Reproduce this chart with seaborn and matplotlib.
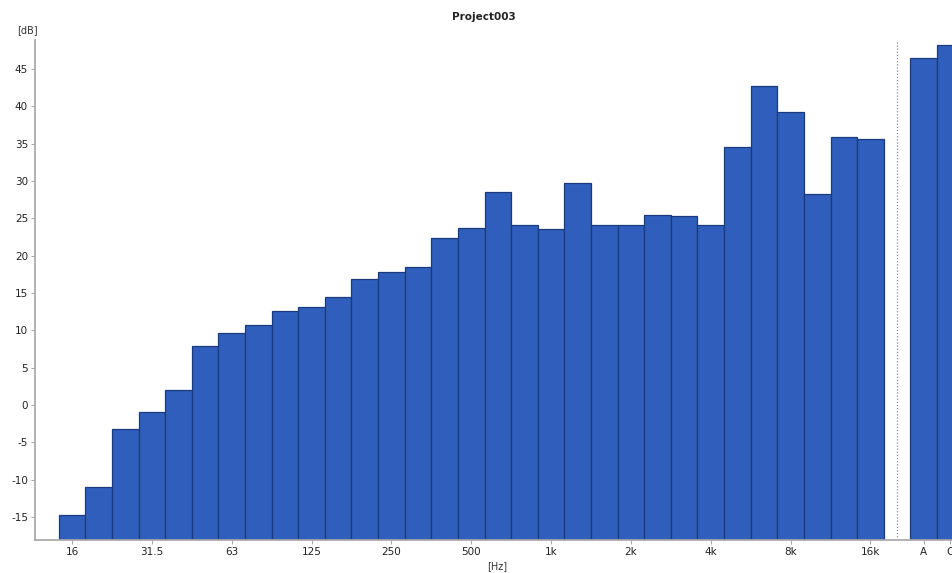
import matplotlib
matplotlib.use("Agg")
import matplotlib.pyplot as plt
import pandas as pd
import seaborn as sns

# 1/3-octave bands, 16 Hz .. 16 kHz, then the A and C weighted totals
bands = ["16", "20", "25", "31.5", "40", "50", "63", "80", "100", "125", "160",
         "200", "250", "315", "400", "500", "630", "800", "1k", "1.25k", "1.6k",
         "2k", "2.5k", "3.15k", "4k", "5k", "6.3k", "8k", "10k", "12.5k", "16k"]
band_db = [-14.7, -11.0, -3.2, -0.9, 2.0, 7.9, 9.6, 10.7, 12.6, 13.1, 14.5,
           16.9, 17.8, 18.5, 22.4, 23.7, 28.5, 24.1, 23.6, 29.7, 24.1,
           24.1, 25.4, 25.3, 24.1, 34.6, 42.7, 39.2, 28.3, 35.9, 35.6]
totals = ["A", "C"]
total_db = [46.5, 48.3]

tick_bands = ["16", "31.5", "63", "125", "250", "500", "1k", "2k", "4k", "8k", "16k"]
y_ticks = list(range(-15, 50, 5))

BAR = "#2f5ebd"
EDGE = "#1b3a7a"
AXIS = "#a8a8a8"
Y_MIN, Y_MAX = -18.1, 48.9

df = pd.DataFrame({"band": bands + totals, "level": band_db + total_db})
order = bands + [" "] + totals  # empty slot between spectrum and totals

sns.set_theme(style="white")
plt.rcParams["font.family"] = ["DejaVu Sans"]

fig = plt.figure(figsize=(9.53, 5.73), dpi=100)
ax = fig.add_axes([0.0367, 0.0576, 0.9633, 0.8725])

sns.barplot(data=df, x="band", y="level", order=order, color=BAR, width=1.0,
            edgecolor=EDGE, linewidth=0.9, saturation=1, ax=ax)

# the analyser draws bars up from the bottom of the axis, not from 0 dB
for p in ax.patches:
    top = p.get_y() + p.get_height()
    p.set_y(Y_MIN)
    p.set_height(top - Y_MIN)

ax.axvline(order.index(" "), color="#8a8a8a", linestyle=(0, (1, 1.5)), linewidth=0.9)

ax.set_xlim(-1.39, 33.1)
ax.set_ylim(Y_MIN, Y_MAX)

xt = [order.index(b) for b in tick_bands] + [order.index(t) for t in totals]
ax.set_xticks(xt)
ax.set_xticklabels(tick_bands + totals, fontsize=7.5, color="#222222")
ax.set_yticks(y_ticks)
ax.set_yticklabels([str(v) for v in y_ticks], fontsize=7.5, color="#222222")
ax.tick_params(axis="both", length=3, width=0.8, color=AXIS, pad=2, bottom=True, left=True)

ax.set_xlabel("")
ax.set_ylabel("")
sns.despine(ax=ax, top=True, right=True)
ax.spines["left"].set_color(AXIS)
ax.spines["bottom"].set_color(AXIS)

fig.text(0.018, 0.947, "[dB]", fontsize=7, color="#333333", ha="left", va="center")
fig.text(0.522, 0.012, "[Hz]", fontsize=7, color="#333333", ha="center", va="center")
fig.text(0.508, 0.971, "Project003", fontsize=7.5, fontweight="bold",
         color="#222222", ha="center", va="center")

fig.savefig("out.png", dpi=100)
plt.close(fig)
